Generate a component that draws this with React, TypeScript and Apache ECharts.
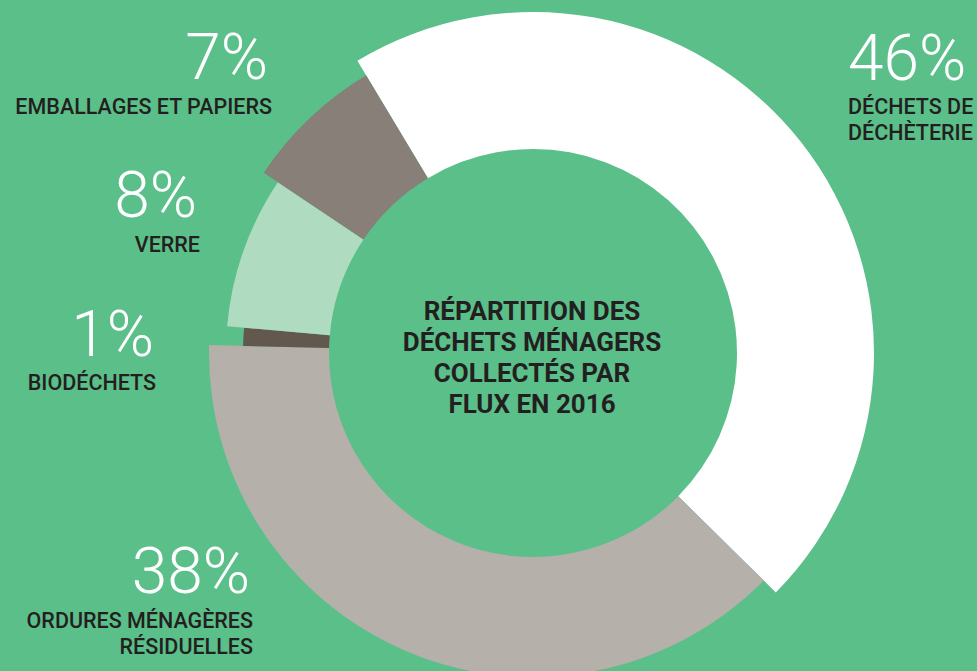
import React, { useEffect, useRef } from "react";
import * as echarts from "echarts";

// ---- Data ----
const categories = [
  "DÉCHETS DE\nDÉCHÈTERIE",
  "ORDURES MÉNAGÈRES\nRÉSIDUELLES",
  "BIODÉCHETS",
  "VERRE",
  "EMBALLAGES ET PAPIERS",
];
const shares = [46, 38, 1, 8, 7];
const title = "RÉPARTITION DES\nDÉCHETS MÉNAGERS\nCOLLECTÉS PAR\nFLUX EN 2016";

// ---- Styles / layout ----
const sliceColors = ["#FFFFFF", "#B5B0AA", "#63584E", "#AFDCC0", "#877F78"];
const outerRadii = [341, 324, 290, 307, 324];
const innerRadius = 204;
const center = [533, 353];
const labelLayout = [
  { px: 848, py: 58, align: "left", nx: 848, ny: 106 },
  { px: 250, py: 571, align: "right", nx: 253, ny: 620 },
  { px: 154, py: 334, align: "right", nx: 156, ny: 382 },
  { px: 197, py: 195, align: "right", nx: 200, ny: 244 },
  { px: 268, py: 57, align: "right", nx: 272, ny: 106 },
];

export default function App() {
  const ref = useRef<HTMLDivElement>(null);

  useEffect(() => {
    if (!ref.current) return;
    const chart = echarts.init(ref.current, undefined, { renderer: "svg" });

    const series = shares.map((_, i) => ({
      type: "pie",
      center,
      radius: [innerRadius, outerRadii[i]],
      startAngle: 121,
      clockwise: true,
      silent: true,
      label: { show: false },
      labelLine: { show: false },
      itemStyle: { borderWidth: 0 },
      emphasis: { disabled: true },
      data: shares.map((v, j) => ({
        value: v,
        name: categories[j],
        itemStyle: { color: j === i ? sliceColors[i] : "rgba(0,0,0,0)" },
      })),
    }));

    const graphics: any[] = [];
    shares.forEach((v, i) => {
      const l = labelLayout[i];
      graphics.push({
        type: "text",
        silent: true,
        style: {
          text: `${v}%`,
          x: l.px,
          y: l.py,
          textAlign: l.align,
          textVerticalAlign: "middle",
          fill: "#FFFFFF",
          fontFamily: "Roboto",
          fontWeight: 300,
          fontSize: 64,
        },
      });
      graphics.push({
        type: "text",
        silent: true,
        style: {
          text: categories[i],
          x: l.nx,
          y: l.ny - 13,
          textAlign: l.align,
          textVerticalAlign: "top",
          fill: "#231F20",
          fontFamily: "Roboto",
          fontWeight: 500,
          fontSize: 21.5,
          lineHeight: 26,
        },
      });
    });
    graphics.push({
      type: "text",
      silent: true,
      style: {
        text: title,
        x: 532,
        y: 357,
        textAlign: "center",
        textVerticalAlign: "middle",
        fill: "#231F20",
        fontFamily: "Roboto",
        fontWeight: 700,
        fontSize: 26,
        lineHeight: 31,
      },
    });

    chart.setOption({
      animation: false,
      backgroundColor: "#5BBF8A",
      series,
      graphic: graphics,
    });

    return () => chart.dispose();
  }, []);

  return (
    <div
      ref={ref}
      style={{ position: "fixed", left: 0, top: 0, width: 977, height: 671 }}
    />
  );
}
